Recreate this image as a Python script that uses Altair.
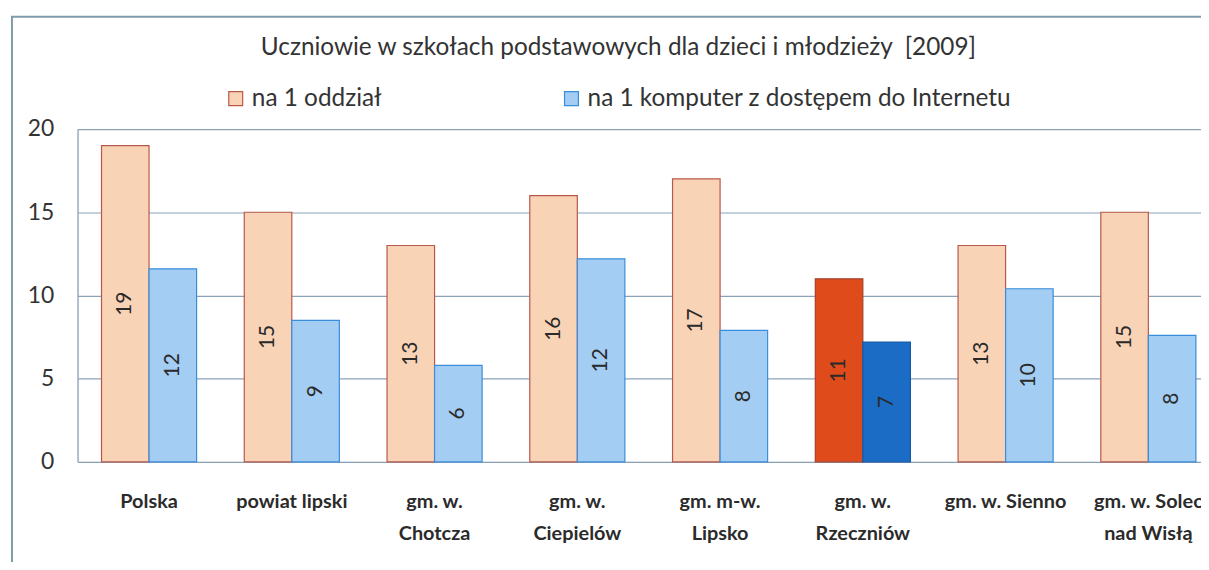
import altair as alt
import pandas as pd

# ---- data ----
regions = ["Polska", "powiat lipski", "gm. w.|Chotcza", "gm. w.|Ciepielów",
           "gm. m-w.|Lipsko", "gm. w.|Rzeczniów", "gm. w. Sienno",
           "gm. w. Solec|nad Wisłą"]
series = ["na 1 oddział", "na 1 komputer z dostępem do Internetu"]
per_class = [19, 15, 13, 16, 17, 11, 13, 15]
per_computer = [11.6, 8.5, 5.8, 12.2, 7.9, 7.2, 10.4, 7.6]
label_class = ["19", "15", "13", "16", "17", "11", "13", "15"]
label_computer = ["12", "9", "6", "12", "8", "7", "10", "8"]
highlight = "gm. w.|Rzeczniów"
title_text = "Uczniowie w szkołach podstawowych dla dzieci i młodzieży\u00a0 [2009]"

rows = []
for i, r in enumerate(regions):
    rows.append({"region": r, "series": series[0], "value": per_class[i], "label": label_class[i]})
    rows.append({"region": r, "series": series[1], "value": per_computer[i], "label": label_computer[i]})
df = pd.DataFrame(rows)

FONT = "Lato"
GRID = "#8aa2b8"

x_scale = alt.Scale(range=[0, 1150], paddingInner=0.334, paddingOuter=0.168, round=False)
x_enc = alt.X("region:N", sort=regions, title=None, scale=x_scale,
              axis=alt.Axis(labelExpr="split(datum.value, '|')", labelAngle=0,
                            labelFontSize=20, labelFontWeight="bold", labelColor="#2b2b2b",
                            labelPadding=30, labelLineHeight=32, labelBaseline="top",
                            labelFont=FONT, ticks=False, domain=False, grid=False,
                            labelLimit=300))
xo_enc = alt.XOffset("series:N", sort=series, scale=alt.Scale(paddingInner=0, paddingOuter=0))
y_scale = alt.Scale(domain=[0, 20], nice=False)

is_a = f"datum.region == '{highlight}' && datum.series == '{series[0]}'"
is_b = f"datum.region == '{highlight}' && datum.series == '{series[1]}'"

base = alt.Chart(df)

bars = base.mark_bar(strokeWidth=1.2).encode(
    x=x_enc,
    xOffset=xo_enc,
    y=alt.Y("value:Q", scale=y_scale, title=None,
            axis=alt.Axis(values=[0, 5, 10, 15, 20], grid=True, gridColor=GRID,
                          gridWidth=1.2, domain=True, domainColor=GRID, domainWidth=1.2,
                          ticks=False, labelFontSize=23, labelColor="#333333",
                          labelPadding=24, labelFont=FONT)),
    fill=alt.Fill("series:N", sort=series,
                  scale=alt.Scale(domain=series, range=["#f9d3b6", "#a3cdf2"]),
                  legend=alt.Legend(title=None, orient="none", legendX=147, legendY=-43,
                                    direction="horizontal", columnPadding=178,
                                    symbolType="square", symbolSize=196,
                                    symbolStrokeWidth=1.2, labelFontSize=24.5,
                                    labelFont=FONT, labelColor="#333333", labelOffset=4,
                                    labelLimit=600),
                  condition=[{"test": is_a, "value": "#e04b1c"},
                             {"test": is_b, "value": "#1a6cc4"}]),
    stroke=alt.Stroke("series:N", sort=series,
                      scale=alt.Scale(domain=series, range=["#b8584a", "#3a8ddb"]),
                      legend=None,
                      condition=[{"test": is_a, "value": "#a8402a"},
                                 {"test": is_b, "value": "#1458a8"}]),
)

texts = base.transform_calculate(mid="datum.value / 2").mark_text(
    angle=270, align="center", baseline="middle", fontSize=21, font=FONT,
    color="#2a2a2a"
).encode(
    x=alt.X("region:N", sort=regions, scale=x_scale),
    xOffset=xo_enc,
    y=alt.Y("mid:Q", scale=y_scale),
    text="label:N",
)

frame = alt.Chart(pd.DataFrame({"f": [0]})).mark_rect(
    fill=None, stroke="#7f9bab", strokeWidth=2, clip=False
).encode(
    x=alt.value(-66), x2=alt.value(1300), y=alt.value(-113), y2=alt.value(600)
)

chart = alt.layer(frame, bars, texts).properties(
    width=1131, height=335,
    padding={"left": 70, "top": 120, "right": 0, "bottom": 99},
    autosize=alt.AutoSizeParams(type="none"),
    title=alt.TitleParams(title_text, fontSize=24.5, font=FONT, fontWeight="normal",
                          color="#333333", anchor="middle", offset=-45, dx=-21),
).configure_view(stroke=None).configure(background="white")

chart.save("out.html", embed_options={"renderer": "svg", "actions": False})
